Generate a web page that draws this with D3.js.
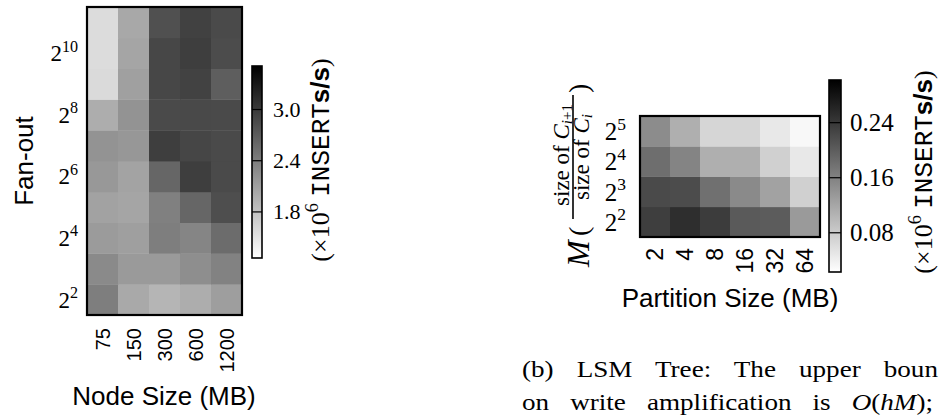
<!DOCTYPE html>
<html>
<head>
<meta charset="utf-8">
<script src="https://cdn.jsdelivr.net/npm/d3@7"></script>
<style>
body { margin: 0; background: #fff; }
.serif { font-family: "Liberation Serif", "DejaVu Serif", serif; }
.sans { font-family: "Liberation Sans", Arial, sans-serif; }
</style>
</head>
<body>
<svg id="fig" width="940" height="415"></svg>
<script>
// (a) insert rate by node size and fan-out (x10^6 inserts/s)
const nodeSizes = ["75", "150", "300", "600", "1200"];
const fanOuts = [2, 3, 4, 5, 6, 7, 8, 9, 10, 11];   // exponent of 2
const fanOutTicks = [2, 4, 6, 8, 10];
const treeRate = [                                   // rows 2^2 .. 2^11
  [2.40, 2.02, 1.91, 1.98, 2.12],
  [2.29, 2.15, 2.15, 2.26, 2.36],
  [2.14, 2.11, 2.40, 2.34, 2.56],
  [2.08, 2.05, 2.38, 2.61, 2.82],
  [2.17, 2.07, 2.61, 2.96, 2.86],
  [2.21, 2.18, 2.96, 2.89, 2.86],
  [1.98, 2.21, 2.86, 2.87, 2.86],
  [1.59, 2.10, 2.88, 2.93, 2.68],
  [1.57, 2.05, 2.88, 2.96, 2.84],
  [1.57, 2.03, 2.80, 2.94, 2.86]
];
const treeRange = [1.26, 3.51];
const treeTicks = [1.8, 2.4, 3.0];

// (b) LSM tree: partition size and size ratio M
const partSizes = ["2", "4", "8", "16", "32", "64"];
const ratios = [2, 3, 4, 5];                         // exponent of 2
const lsmRate = [                                    // rows 2^2 .. 2^5
  [0.234, 0.252, 0.236, 0.204, 0.201, 0.134],
  [0.221, 0.219, 0.180, 0.151, 0.125, 0.074],
  [0.182, 0.158, 0.110, 0.110, 0.074, 0.048],
  [0.149, 0.110, 0.068, 0.068, 0.048, 0.031]
];
const lsmRange = [0.023, 0.302];
const lsmTicks = [0.08, 0.16, 0.24];

const svg = d3.select("#fig");
const defs = svg.append("defs");

//draws one heatmap with its colorbar
function heatmap(o) {
  const x = d3.scaleBand().domain(o.cols).range([o.left, o.right]);
  const y = d3.scaleBand().domain(o.rows).range([o.bottom, o.top]);
  const color = d3.scaleLinear().domain(o.range).range(["#ffffff", "#000000"]).clamp(true);

  const cells = [];
  o.values.forEach((row, i) => row.forEach((v, j) => cells.push({r: o.rows[i], c: o.cols[j], v: v})));

  svg.append("g").selectAll("rect").data(cells).enter().append("rect")
    .attr("x", d => x(d.c)).attr("y", d => y(d.r))
    .attr("width", x.bandwidth() + 0.4).attr("height", y.bandwidth() + 0.4)
    .attr("fill", d => color(d.v));

  svg.append("rect")
    .attr("x", o.left).attr("y", o.top)
    .attr("width", o.right - o.left).attr("height", o.bottom - o.top)
    .attr("fill", "none").attr("stroke", "#000").attr("stroke-width", 2.2);

  // y axis: powers of two
  const ya = svg.append("g").attr("transform", "translate(" + o.left + ",0)")
    .call(d3.axisLeft(y).tickValues(o.yTicks).tickSize(0).tickPadding(o.yPad));
  ya.attr("font-size", null).attr("font-family", null);
  ya.select(".domain").remove();
  ya.selectAll(".tick text").attr("class", "serif").attr("font-size", o.serifSize)
    .attr("dy", null).attr("y", o.yBase)
    .each(function(d) {
      const t = d3.select(this).text(null);
      t.append("tspan").text("2");
      t.append("tspan").attr("font-size", o.serifSize * 0.7).attr("dy", -o.serifSize * 0.42).text(d);
    });

  // x axis: rotated labels
  const xa = svg.append("g").attr("transform", "translate(0," + o.bottom + ")")
    .call(d3.axisBottom(x).tickSize(0));
  xa.attr("font-size", null).attr("font-family", null);
  xa.select(".domain").remove();
  xa.selectAll(".tick text").attr("class", "sans").attr("font-size", o.xSize)
    .attr("transform", "rotate(-90)").attr("text-anchor", "end")
    .attr("x", -o.xPad).attr("y", 0).attr("dy", "0.36em");

  // colorbar
  const cb = d3.scaleLinear().domain(o.range).range([o.cbBottom, o.cbTop]);
  const gid = "grad" + o.id;
  const grad = defs.append("linearGradient").attr("id", gid)
    .attr("x1", 0).attr("y1", 1).attr("x2", 0).attr("y2", 0);
  grad.selectAll("stop").data(o.range).enter().append("stop")
    .attr("offset", (d, i) => i).attr("stop-color", d => color(d));
  svg.append("rect").attr("x", o.cbLeft).attr("y", o.cbTop)
    .attr("width", o.cbWidth).attr("height", o.cbBottom - o.cbTop)
    .attr("fill", "url(#" + gid + ")");
  svg.append("g").selectAll("line").data(o.cbTicks).enter().append("line")
    .attr("x1", o.cbLeft).attr("x2", o.cbLeft + o.cbWidth)
    .attr("y1", d => cb(d)).attr("y2", d => cb(d))
    .attr("stroke", "#000").attr("stroke-width", 1.2);
  svg.append("rect").attr("x", o.cbLeft).attr("y", o.cbTop)
    .attr("width", o.cbWidth).attr("height", o.cbBottom - o.cbTop)
    .attr("fill", "none").attr("stroke", "#000").attr("stroke-width", 1.6);
  const ca = svg.append("g").attr("transform", "translate(" + (o.cbLeft + o.cbWidth) + ",0)")
    .call(d3.axisRight(cb).tickValues(o.cbTicks).tickSize(0).tickPadding(o.cbPad).tickFormat(d3.format(o.cbFmt)));
  ca.attr("font-size", null).attr("font-family", null);
  ca.select(".domain").remove();
  ca.selectAll(".tick text").attr("class", "serif").attr("font-size", o.cbSize);

  // colorbar label
  const lab = svg.append("text").attr("class", "serif").attr("font-size", o.labSize)
    .attr("text-anchor", "middle")
    .attr("transform", "translate(" + o.labX + "," + o.labY + ") rotate(-90)");
  lab.append("tspan").text("(\u00d710");
  lab.append("tspan").attr("font-size", o.labSize * 0.7).attr("dy", -o.labSize * 0.42).text("6");
  lab.append("tspan").attr("dy", o.labSize * 0.42).text("\u00a0");
  lab.append("tspan").style("font-family", '"Liberation Mono", "Courier New", monospace')
    .style("font-weight", "normal").text("INSERT");
  lab.append("tspan").style("font-family", '"Liberation Sans", Arial, sans-serif')
    .style("font-weight", "bold").text("s/s");
  lab.append("tspan").text(")");
}

heatmap({
  id: "a", cols: nodeSizes, rows: fanOuts, values: treeRate, range: treeRange,
  left: 87, right: 242, top: 7, bottom: 315,
  yTicks: fanOutTicks, yPad: 9, yBase: 8, serifSize: 23, xSize: 20, xPad: 13,
  cbLeft: 252, cbWidth: 10, cbTop: 66, cbBottom: 258, cbTicks: treeTicks, cbFmt: ".1f",
  cbPad: 11, cbSize: 22, labSize: 26, labX: 329, labY: 160
});

heatmap({
  id: "b", cols: partSizes, rows: ratios, values: lsmRate, range: lsmRange,
  left: 640, right: 820, top: 116, bottom: 237,
  yTicks: ratios, yPad: 14, yBase: 9, serifSize: 25, xSize: 23, xPad: 11,
  cbLeft: 829, cbWidth: 12, cbTop: 80, cbBottom: 272, cbTicks: lsmTicks, cbFmt: ".2f",
  cbPad: 9, cbSize: 25, labSize: 26, labX: 932, labY: 172
});

// axis titles
svg.append("text").attr("class", "sans").attr("font-size", 26).attr("text-anchor", "middle")
  .attr("transform", "translate(33,161) rotate(-90)").text("Fan-out");
svg.append("text").attr("class", "sans").attr("font-size", 26).attr("text-anchor", "middle")
  .attr("x", 164).attr("y", 405).text("Node Size (MB)");
svg.append("text").attr("class", "sans").attr("font-size", 26).attr("text-anchor", "middle")
  .attr("x", 730).attr("y", 307).text("Partition Size (MB)");

// M(size of C_{i+1} / size of C_i)
const ml = svg.append("g").attr("class", "serif").attr("transform", "translate(590,267) rotate(-90)");
ml.append("text").attr("font-size", 32).attr("font-style", "italic").attr("x", 0).attr("y", -1).text("M");
ml.append("text").attr("font-size", 28).attr("x", 31).attr("y", -2).text("(");
ml.append("line").attr("x1", 48).attr("x2", 172).attr("y1", -17).attr("y2", -17)
  .attr("stroke", "#000").attr("stroke-width", 1.6);
const num = ml.append("text").attr("font-size", 23).attr("text-anchor", "middle").attr("x", 112).attr("y", -21);
num.append("tspan").text("size of ");
num.append("tspan").attr("font-style", "italic").text("C");
num.append("tspan").attr("font-size", 15).attr("font-style", "italic").attr("dy", 3).text("i");
num.append("tspan").attr("font-size", 15).text("+1");
const den = ml.append("text").attr("font-size", 23).attr("text-anchor", "middle").attr("x", 110).attr("y", -1);
den.append("tspan").text("size of ");
den.append("tspan").attr("font-style", "italic").text("C");
den.append("tspan").attr("font-size", 15).attr("font-style", "italic").attr("dy", 3).text("i");
ml.append("text").attr("font-size", 28).attr("x", 174).attr("y", -2).text(")");

// caption (justified lines, widened to match the original face)
const capScale = 1.18;
function captionLine(y, parts, endX) {
  const g = svg.append("g").attr("transform", "translate(522," + y + ") scale(" + capScale + ",1)");
  const t = g.append("text").attr("class", "serif").attr("font-size", 23).attr("x", 0).attr("y", 0);
  parts.forEach(p => t.append("tspan").attr("font-style", p[1] ? "italic" : null).text(p[0]));
  const str = parts.map(p => p[0]).join("");
  const spaces = (str.match(/ /g) || []).length;
  const w = t.node().getComputedTextLength();
  t.attr("word-spacing", Math.max(0, ((endX - 522) / capScale - w) / spaces));
}
captionLine(377, [["(b) LSM Tree: The upper boun", false]], 938);
captionLine(410, [["on write amplification is ", false], ["O", true], ["(", false], ["hM", true], [");", false]], 933);
</script>
</body>
</html>
